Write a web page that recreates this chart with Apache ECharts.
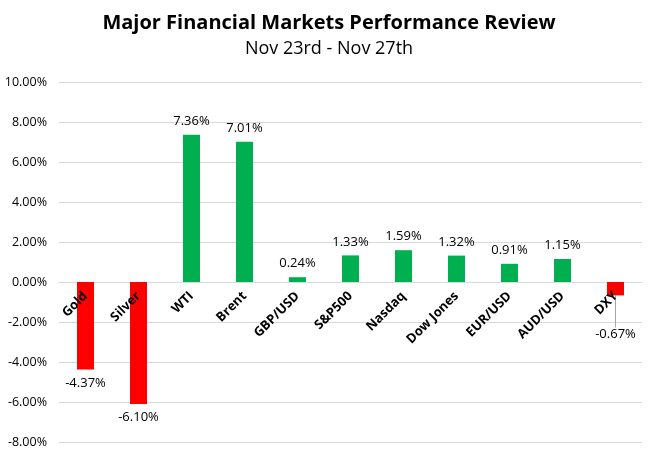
<!DOCTYPE html>
<html><head><meta charset="utf-8">
<script src="https://cdn.jsdelivr.net/npm/echarts@6/dist/echarts.min.js"></script>
<style>html,body{margin:0;padding:0;background:#fff}#c{width:658px;height:458px}</style>
</head><body><div id="c"></div>
<script>
const categories = ['Gold','Silver','WTI','Brent','GBP/USD','S&P500','Nasdaq','Dow Jones','EUR/USD','AUD/USD','DXY'];
const values = [-4.37,-6.10,7.36,7.01,0.24,1.33,1.59,1.32,0.91,1.15,-0.67];
const yTicks = {min:-8, max:10, interval:2};
const FONT = '"Open Sans", "Liberation Sans", sans-serif';
const GRID = {left:59, right:16, top:82, bottom:16};
const plotH = 458 - GRID.top - GRID.bottom;
const zeroOffset = -plotH * (0 - yTicks.min) / (yTicks.max - yTicks.min);
const chart = echarts.init(document.getElementById('c'));
chart.setOption({
  animation:false,
  title:[
    {text:'Major Financial Markets Performance Review', left:'center', top:8,
     textStyle:{fontFamily:FONT, fontSize:20, fontWeight:'bold', color:'#000'}},
    {text:'Nov 23rd - Nov 27th', left:'center', top:35,
     textStyle:{fontFamily:FONT, fontSize:18, fontWeight:'normal', color:'#000'}}
  ],
  grid:Object.assign({containLabel:false, outerBoundsMode:'none'}, GRID),
  xAxis:[
    {type:'category', data:categories,
     axisLine:{onZero:true, lineStyle:{color:'#d9d9d9'}},
     axisTick:{show:false}, axisLabel:{show:false}},
    {type:'category', data:categories, position:'bottom', offset:zeroOffset, z:10,
     axisLine:{show:false}, axisTick:{show:false}, splitLine:{show:false},
     axisLabel:{rotate:45, margin:12, interval:0, fontFamily:FONT, fontSize:13, fontWeight:'bold', color:'#000'}}
  ],
  yAxis:{type:'value', min:yTicks.min, max:yTicks.max, interval:yTicks.interval,
    axisLine:{show:false}, axisTick:{show:false},
    splitLine:{lineStyle:{color:'#d9d9d9'}},
    axisLabel:{margin:12, fontFamily:FONT, fontSize:12.5, color:'#000', formatter:v=>v.toFixed(2)+'%'}
  },
  series:[{type:'bar', barWidth:17, xAxisIndex:0, z:2,
    data: values.map((v,i)=>{
      const item = {value:v, itemStyle:{color: v>=0 ? '#00B050' : '#FF0000'},
        label:{position: v>=0 ? 'top':'bottom'}};
      if (i===10) { item.labelLine = {show:true, lineStyle:{color:'#a6a6a6', width:1}}; }
      return item;
    }),
    label:{show:true, distance:7, fontFamily:FONT, fontSize:13, color:'#000', formatter:p=>p.value.toFixed(2)+'%'},
    labelLayout:function(p){ if(p.dataIndex===10) return {dy:25}; return {}; }
  }]
});
</script></body></html>
